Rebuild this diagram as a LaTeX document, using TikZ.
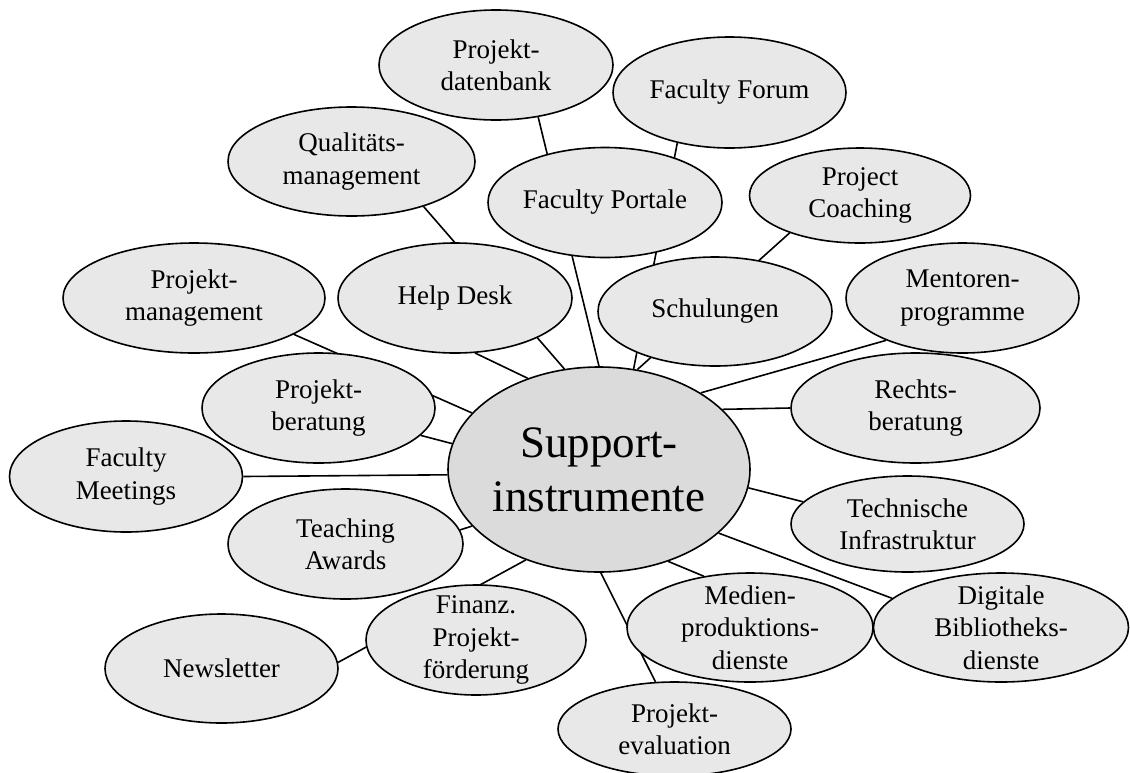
\documentclass[tikz,border=0pt]{standalone}
\usepackage{fontspec}
\setmainfont{Liberation Serif}
\usetikzlibrary{shapes.geometric,backgrounds}
\definecolor{bubfill}{gray}{0.91}
\definecolor{supfill}{gray}{0.86}
\begin{document}
\begin{tikzpicture}[x=1pt,y=-1pt,
  bub/.style={ellipse, draw=black, line width=1.6pt, fill=bubfill,
    inner xsep=-5pt, inner ysep=-20pt, align=center,
    font=\fontsize{27}{32.4}\selectfont},
  sz/.style 2 args={minimum width=#1pt, minimum height=#2pt},
  hub/.style={fill=supfill, font=\fontsize{45}{54}\selectfont},
  conn/.style={line width=1.6pt, draw=black}]
\useasboundingbox (0,0) rectangle (1130,772);

\node[bub, sz={234}{110}] (pdb) at (496,65) {Projekt-\\datenbank};
\node[bub, sz={233}{111}] (ffo) at (729.5,92.5) {Faculty Forum};
\node[bub, sz={247}{109}] (qm)  at (351.5,161.5) {Qualitäts-\\management};
\node[bub, sz={234}{110}] (fpo) at (605,202.5) {Faculty Portale};
\node[bub, sz={221}{95}]  (pco) at (860,195.5) {Project\\Coaching};
\node[bub, sz={262}{110}] (pm)  at (194,298) {Projekt-\\management};
\node[bub, sz={234}{110}] (hd)  at (455,298) {Help Desk};
\node[bub, sz={234}{109}] (sch) at (715,311.5) {Schulungen};
\node[bub, sz={233}{110}] (men) at (962.5,298) {Mentoren-\\programme};
\node[bub, sz={233}{110}] (pb)  at (318.5,408) {Projekt-\\beratung};
\node[bub, sz={249}{110}] (rb)  at (915.5,408) {Rechts-\\beratung};
\node[bub, sz={233}{111}] (fm)  at (126,476.5) {Faculty\\Meetings};
\node[bub, sz={235}{110}] (ta)  at (345.5,544) {Teaching\\Awards};
\node[bub, sz={233}{96}]  (ti)  at (907.5,524) {Technische\\Infrastruktur};
\node[bub, sz={233}{109}] (nl)  at (221.5,668.5) {Newsletter};
\node[bub, sz={220}{110}] (fin) at (476,640) {Finanz.\\Projekt-\\förderung};
\node[bub, sz={246}{109}] (med) at (750,627.5) {Medien-\\produktions-\\dienste};
\node[bub, sz={255}{109}] (dig) at (1001,627.5) {Digitale\\Bibliotheks-\\dienste};
\node[bub, sz={233}{94}]  (pev) at (674.5,729) {Projekt-\\evaluation};
\node[bub, hub, sz={302}{205}] (sup) at (599,469.5) {Support-\\instrumente};

\begin{scope}[on background layer]
\draw[conn] (pdb.-51.7) -- (sup.90.6);
\draw[conn] (ffo.-136.1) -- (sup.71.8);
\draw[conn] (pco.-152.5) -- (sup.69.1);
\draw[conn] (qm.-32.1) -- (sup.109.4);
\draw[conn] (hd.-70) -- (sup.128.1);
\draw[conn] (pm.-20.7) -- (sup.156.4);
\draw[conn] (pb.-15.4) -- (sup.170.2);
\draw[conn] (fm.0) -- (sup.182.5);
\draw[conn] (ta.7.6) -- (sup.204.2);
\draw[conn] (nl.3.7) -- (sup.231.5);
\draw[conn] (pev.112.5) -- (sup.-89.4);
\draw[conn] (med.132.9) -- (sup.-53);
\draw[conn] (dig.165.3) -- (sup.-28.1);
\draw[conn] (ti.168) -- (sup.-7.8);
\draw[conn] (rb.180) -- (sup.26.9);
\draw[conn] (men.209.1) -- (sup.37.3);
\end{scope}
\end{tikzpicture}
\end{document}
